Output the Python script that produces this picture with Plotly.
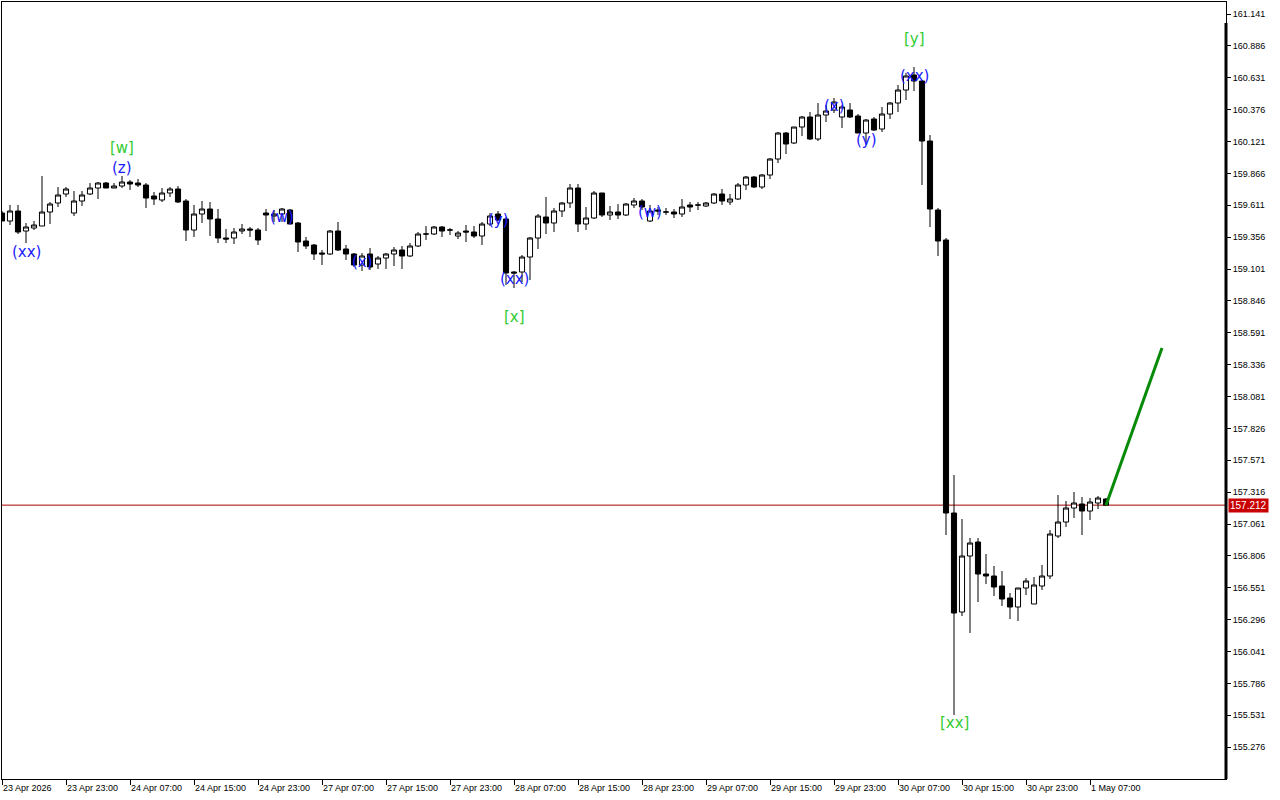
import plotly.graph_objects as go

# ---- data (H1 candles, index 0 = 23 Apr 2026 15:00) ----
opens = [159.549, 159.485, 159.565, 159.405, 159.429, 159.445, 159.557, 159.629, 159.701, 159.549,
         159.645, 159.701, 159.749, 159.789, 159.749, 159.765, 159.797, 159.789, 159.773, 159.685,
         159.653, 159.709, 159.741, 159.645, 159.413, 159.541, 159.581, 159.501, 159.349, 159.349,
         159.405, 159.421, 159.413, 159.549, 159.525, 159.541, 159.573, 159.469, 159.325, 159.293,
         159.229, 159.221, 159.405, 159.261, 159.221, 159.133, 159.221, 159.141, 159.189, 159.221,
         159.253, 159.205, 159.285, 159.381, 159.381, 159.437, 159.413, 159.365, 159.405, 159.397,
         159.365, 159.461, 159.541, 159.501, 159.077, 159.077, 159.197, 159.349, 159.517, 159.469,
         159.565, 159.629, 159.749, 159.461, 159.509, 159.709, 159.533, 159.557, 159.533, 159.613,
         159.645, 159.485, 159.573, 159.557, 159.557, 159.541, 159.613, 159.613, 159.605, 159.629,
         159.701, 159.637, 159.661, 159.773, 159.837, 159.757, 159.853, 159.981, 160.189, 160.109,
         160.237, 160.317, 160.141, 160.333, 160.373, 160.317, 160.373, 160.325, 160.189, 160.301,
         160.221, 160.341, 160.429, 160.533, 160.653, 160.605, 160.125, 159.573, 159.333, 157.149,
         156.357, 156.805, 156.917, 156.661, 156.645, 156.565, 156.469, 156.397, 156.549, 156.421,
         156.565, 156.645, 156.965, 157.077, 157.189, 157.221, 157.165, 157.229, 157.261]
highs = [159.565, 159.613, 159.613, 159.469, 159.485, 159.845, 159.637, 159.757, 159.757, 159.725,
         159.725, 159.789, 159.797, 159.797, 159.789, 159.845, 159.813, 159.821, 159.789, 159.717,
         159.749, 159.757, 159.765, 159.661, 159.613, 159.645, 159.637, 159.581, 159.421, 159.429,
         159.461, 159.437, 159.429, 159.581, 159.573, 159.589, 159.581, 159.477, 159.357, 159.301,
         159.253, 159.413, 159.477, 159.293, 159.229, 159.229, 159.269, 159.205, 159.229, 159.277,
         159.285, 159.309, 159.397, 159.445, 159.445, 159.445, 159.429, 159.405, 159.453, 159.445,
         159.477, 159.549, 159.565, 159.517, 159.085, 159.213, 159.357, 159.541, 159.677, 159.589,
         159.637, 159.781, 159.781, 159.597, 159.725, 159.709, 159.605, 159.621, 159.629, 159.669,
         159.661, 159.613, 159.597, 159.589, 159.581, 159.661, 159.637, 159.637, 159.637, 159.709,
         159.741, 159.701, 159.789, 159.845, 159.845, 159.861, 159.989, 160.197, 160.197, 160.237,
         160.325, 160.357, 160.429, 160.413, 160.469, 160.413, 160.429, 160.341, 160.301, 160.317,
         160.397, 160.437, 160.573, 160.669, 160.717, 160.613, 160.173, 159.589, 159.349, 157.453,
         157.101, 156.949, 156.949, 156.821, 156.725, 156.685, 156.509, 156.549, 156.629, 156.637,
         156.733, 157.013, 157.293, 157.245, 157.317, 157.277, 157.269, 157.285, 157.269]
lows = [159.485, 159.453, 159.381, 159.309, 159.413, 159.445, 159.461, 159.597, 159.677, 159.525,
        159.605, 159.693, 159.661, 159.749, 159.749, 159.749, 159.733, 159.757, 159.589, 159.613,
        159.637, 159.677, 159.629, 159.325, 159.357, 159.469, 159.365, 159.309, 159.309, 159.301,
        159.381, 159.357, 159.293, 159.405, 159.477, 159.477, 159.461, 159.237, 159.261, 159.173,
        159.133, 159.213, 159.245, 159.173, 159.117, 159.085, 159.093, 159.101, 159.101, 159.125,
        159.101, 159.197, 159.277, 159.333, 159.373, 159.357, 159.373, 159.341, 159.317, 159.349,
        159.293, 159.445, 159.485, 158.973, 158.949, 158.997, 159.013, 159.261, 159.381, 159.397,
        159.517, 159.589, 159.397, 159.413, 159.501, 159.517, 159.493, 159.501, 159.525, 159.589,
        159.573, 159.477, 159.533, 159.533, 159.509, 159.517, 159.557, 159.573, 159.597, 159.621,
        159.613, 159.613, 159.653, 159.733, 159.749, 159.741, 159.821, 159.949, 160.021, 160.101,
        160.165, 160.133, 160.125, 160.277, 160.349, 160.229, 160.309, 160.189, 160.093, 160.205,
        160.197, 160.301, 160.357, 160.453, 160.525, 159.773, 159.437, 159.205, 156.973, 155.533,
        156.325, 156.189, 156.437, 156.581, 156.485, 156.405, 156.301, 156.285, 156.493, 156.421,
        156.533, 156.621, 156.949, 157.037, 157.109, 156.973, 157.093, 157.181, 157.212]
closes = [159.485, 159.565, 159.397, 159.437, 159.453, 159.557, 159.621, 159.693, 159.741, 159.645,
          159.693, 159.749, 159.789, 159.749, 159.765, 159.797, 159.781, 159.773, 159.669, 159.661,
          159.709, 159.741, 159.637, 159.413, 159.541, 159.581, 159.501, 159.349, 159.341, 159.397,
          159.421, 159.413, 159.333, 159.533, 159.541, 159.581, 159.461, 159.317, 159.285, 159.221,
          159.221, 159.405, 159.253, 159.221, 159.133, 159.205, 159.117, 159.189, 159.221, 159.253,
          159.205, 159.285, 159.381, 159.381, 159.437, 159.405, 159.413, 159.389, 159.397, 159.365,
          159.461, 159.525, 159.493, 159.069, 159.069, 159.197, 159.349, 159.525, 159.469, 159.565,
          159.629, 159.749, 159.461, 159.509, 159.709, 159.533, 159.557, 159.533, 159.621, 159.645,
          159.597, 159.565, 159.565, 159.557, 159.541, 159.597, 159.597, 159.613, 159.629, 159.701,
          159.645, 159.661, 159.773, 159.837, 159.757, 159.853, 159.981, 160.189, 160.101, 160.237,
          160.317, 160.141, 160.333, 160.365, 160.437, 160.397, 160.317, 160.189, 160.293, 160.213,
          160.341, 160.429, 160.533, 160.645, 160.605, 160.125, 159.581, 159.325, 157.149, 156.349,
          156.805, 156.909, 156.661, 156.645, 156.557, 156.461, 156.397, 156.549, 156.605, 156.573,
          156.645, 156.981, 157.077, 157.189, 157.229, 157.165, 157.237, 157.269, 157.212]

x_tick_index = [0, 8, 16, 24, 32, 40, 48, 56, 64, 72, 80, 88, 96, 104, 112, 120, 128, 136]
x_tick_labels = ["23 Apr 2026", "23 Apr 23:00", "24 Apr 07:00", "24 Apr 15:00", "24 Apr 23:00",
                 "27 Apr 07:00", "27 Apr 15:00", "27 Apr 23:00", "28 Apr 07:00", "28 Apr 15:00",
                 "28 Apr 23:00", "29 Apr 07:00", "29 Apr 15:00", "29 Apr 23:00", "30 Apr 07:00",
                 "30 Apr 15:00", "30 Apr 23:00", "1 May 07:00"]
y_ticks = [161.141, 160.886, 160.631, 160.376, 160.121, 159.866, 159.611, 159.356, 159.101,
           158.846, 158.591, 158.336, 158.081, 157.826, 157.571, 157.316, 157.061, 156.806,
           156.551, 156.296, 156.041, 155.786, 155.531, 155.276]
current_price = 157.212

# wave labels: (text, candle index, price, colour group)
wave_labels = [("(xx)", 3, 159.237, "blue"), ("[w]", 15, 160.069, "green"), ("(z)", 15, 159.909, "blue"),
               ("(w)", 35, 159.517, "blue"), ("(x)", 45, 159.157, "blue"), ("(y)", 62, 159.493, "blue"),
               ("(xx)", 64, 159.021, "blue"), ("[x]", 64, 158.717, "green"), ("(w)", 81, 159.557, "blue"),
               ("(x)", 104, 160.405, "blue"), ("(y)", 108, 160.133, "blue"), ("(xx)", 114, 160.645, "blue"),
               ("[y]", 114, 160.941, "green"), ("[xx]", 119, 155.469, "green")]

# projection arrow
proj_x = [138, 145]
proj_y = [157.212, 158.469]

idx = list(range(len(opens)))

fig = go.Figure()
fig.add_trace(go.Candlestick(
    x=idx, open=opens, high=highs, low=lows, close=closes,
    increasing=dict(line=dict(color="black", width=1), fillcolor="white"),
    decreasing=dict(line=dict(color="black", width=1), fillcolor="black"),
    whiskerwidth=0, hoverinfo="skip", showlegend=False))

fig.add_trace(go.Scatter(x=proj_x, y=proj_y, mode="lines",
                         line=dict(color="#078a07", width=3), hoverinfo="skip", showlegend=False))

colors = {"blue": "#1a1aff", "green": "#33cc33"}
for txt, k, p, c in wave_labels:
    fig.add_annotation(x=k, y=p, text=txt, showarrow=False, xanchor="center", yanchor="middle",
                       font=dict(family="DejaVu Sans", size=15, color=colors[c]))

# current price line (behind candles) and label
fig.add_shape(type="line", xref="paper", x0=0, x1=1, yref="y", y0=current_price, y1=current_price,
              line=dict(color="#a80000", width=1), layer="below")
fig.add_annotation(xref="paper", x=1, xanchor="left", xshift=2, yref="y", y=current_price,
                   text=f"{current_price:.3f}", showarrow=False, bgcolor="#c80000",
                   font=dict(family="Liberation Sans", size=10, color="white"), borderpad=1)
# thick right axis bar
fig.add_shape(type="line", xref="paper", x0=1, x1=1, yref="paper", y0=0, y1=0.973,
              line=dict(color="black", width=3))

fig.update_layout(
    width=1280, height=800,
    margin=dict(l=2, r=54, t=2, b=21),
    paper_bgcolor="white", plot_bgcolor="white",
    boxgap=0.2, boxgroupgap=0.2,
    hovermode=False,
    xaxis=dict(range=[0, 153], tickmode="array", tickvals=x_tick_index, ticktext=x_tick_labels,
               ticks="outside", ticklen=5, tickcolor="black", ticklabelposition="outside right",
               showgrid=False, zeroline=False, showline=True, linecolor="black", linewidth=1,
               mirror=True, rangeslider=dict(visible=False), fixedrange=True,
               tickfont=dict(family="Liberation Sans", size=9, color="black")),
    yaxis=dict(range=[155.021, 161.237], side="right", tickmode="array", tickvals=y_ticks,
               ticktext=[f"{v:.3f}" for v in y_ticks], ticks="outside", ticklen=4, tickcolor="black",
               showgrid=False, zeroline=False, showline=True, linecolor="black", linewidth=1,
               mirror=True, fixedrange=True,
               tickfont=dict(family="Liberation Sans", size=9, color="black")),
)

fig.write_html("out.html", config={"displayModeBar": False},
               post_script="document.body.style.margin='0';document.body.style.overflow='hidden';")
